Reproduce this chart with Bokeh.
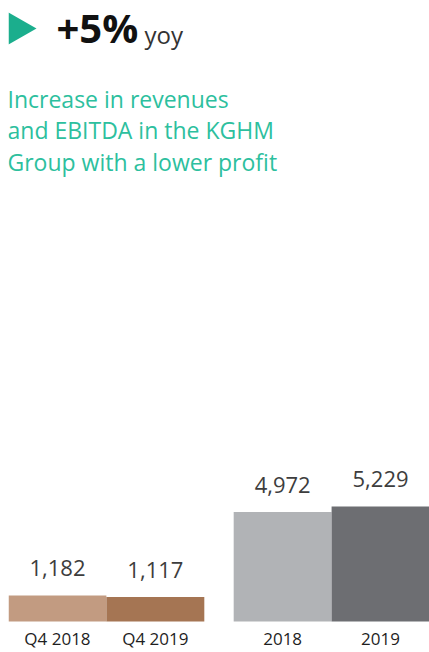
from bokeh.plotting import figure
from bokeh.models import FactorRange, Range1d, ColumnDataSource
from bokeh.layouts import column
from bokeh.core.properties import value
from bokeh.embed import file_html
from bokeh.resources import INLINE

# ---- data ----
groups = ["Q4", "Q4", "FY", "FY"]
categories = ["Q4 2018", "Q4 2019", "2018", "2019"]
values = [1182, 1117, 4972, 5229]
value_labels = ["1,182", "1,117", "4,972", "5,229"]
bar_colors = ["#C29B81", "#A57553", "#B1B3B6", "#6D6E72"]
headline = "+5%"
headline_unit = "yoy"
subtitle_lines = ["Increase in revenues", "and EBITDA in the KGHM", "Group with a lower profit"]

# ---- layout ----
W = 429
HH, CH = 190, 462
LEFT = 8
FONT = value("Open Sans")
factors = list(zip(groups, categories))


def bare(fig):
    fig.outline_line_color = None
    fig.grid.visible = False
    fig.background_fill_color = "white"
    fig.border_fill_color = "white"
    return fig


# header figure (pixel-like ranges)
h = bare(figure(width=W, height=HH, x_range=Range1d(LEFT, W), y_range=Range1d(HH, 0),
                output_backend="svg", toolbar_location=None,
                x_axis_location=None, y_axis_location=None,
                min_border=0, min_border_left=LEFT))
h.patch(x=[8, 8, 36], y=[12, 44, 28], fill_color="#1BAE8D", line_color=None)
h.text(x=[56], y=[27], text=[headline], text_font=FONT, text_font_style="bold",
       text_font_size="40px", text_color="#111111", text_baseline="alphabetic")
h.text(x=[144], y=[33.5], text=[headline_unit], text_font=FONT,
       text_font_size="24px", text_color="#333333", text_baseline="alphabetic")
h.text(x=[7, 7, 7], y=[98, 129.5, 161], text=subtitle_lines, text_font=FONT,
       text_font_size="23px", text_color="#2DBF9E", text_baseline="alphabetic")

# chart figure
p = bare(figure(width=W, height=CH,
                x_range=FactorRange(*factors, factor_padding=0, group_padding=0.3, range_padding=0),
                y_range=Range1d(-1409, 19591),
                output_backend="svg", toolbar_location=None,
                x_axis_location=None, y_axis_location=None,
                min_border=0, min_border_left=LEFT))

src = ColumnDataSource(dict(x=factors, top=values, color=bar_colors,
                            label=value_labels, cat=categories))

p.vbar(x="x", top="top", bottom=0, width=1.0, fill_color="color",
       line_color=None, source=src)
p.text(x="x", y="top", text="label", y_offset=-27, text_align="center",
       text_baseline="alphabetic", text_font=FONT, text_font_size="22px",
       text_color="#3d3d3d", source=src)
p.text(x="x", y=0, text="cat", y_offset=17, text_align="center",
       text_baseline="alphabetic", text_font=FONT, text_font_size="17px",
       text_color="#1e1e1e", source=src)

layout = column(h, p, spacing=0)
open("out.html", "w").write(file_html(layout, INLINE))
